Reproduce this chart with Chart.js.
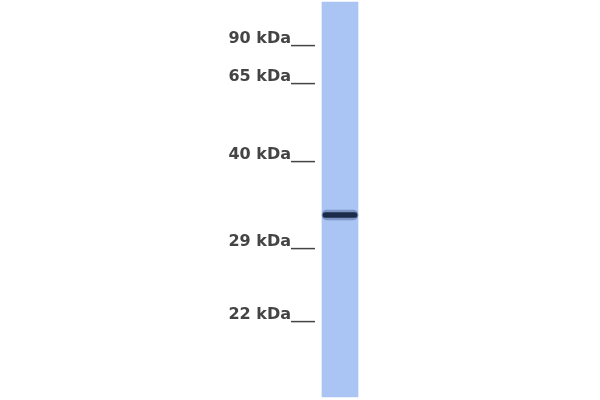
<!DOCTYPE html>
<html>
<head>
<meta charset="utf-8">
<script src="https://cdn.jsdelivr.net/npm/chart.js@4.4.0/dist/chart.umd.min.js"></script>
<style>
  html, body { margin: 0; padding: 0; background: #fff; }
  #wrap { width: 600px; height: 400px; }
</style>
</head>
<body>
<div id="wrap"><canvas id="blot"></canvas></div>
<script>
// Marker ladder (kDa) and their migration distance down the gel
const markerKda = [90, 65, 40, 29, 22];
const markerPos = [39, 77, 155, 242, 315];

// Lane extent and detected band (migration distance)
const laneLabels = ['Lane 1'];
const laneSpan = [[2, 397]];
const bandSpan = [[212.5, 217.5]];
const bandHalo = [[210, 220]];

const ctx = document.getElementById('blot').getContext('2d');

new Chart(ctx, {
    type: 'bar',
    data: {
        labels: laneLabels,
        datasets: [
            { label: 'Band', data: bandSpan, backgroundColor: 'rgba(18,34,62,0.92)', grouped: false, order: 0, barThickness: 34, borderRadius: 3, borderSkipped: false },
            { label: 'Halo', data: bandHalo, backgroundColor: 'rgba(40,64,110,0.35)', grouped: false, order: 1, barThickness: 36, borderRadius: 5, borderSkipped: false },
            { label: 'Lane', data: laneSpan, backgroundColor: '#aac4f3', grouped: false, order: 2, barThickness: 36, borderSkipped: false }
        ]
    },
    options: {
        responsive: true,
        maintainAspectRatio: false,
        animation: false,
        layout: { padding: { left: 218, right: 238, top: 0, bottom: 0 } },
        plugins: { legend: { display: false }, tooltip: { enabled: false } },
        scales: {
            x: {
                display: false
            },
            y: {
                type: 'linear',
                reverse: true,
                min: 0,
                max: 400,
                afterFit: s => { s.width = 100; s.paddingTop = 0; s.paddingBottom = 0; },
                afterBuildTicks: s => { s.ticks = markerPos.map(v => ({ value: v })); },
                grid: { display: false, drawTicks: false },
                border: { display: false },
                ticks: {
                    padding: 3,
                    color: '#444444',
                    font: { family: 'DejaVu Sans', size: 16, weight: 'bold' },
                    callback: v => {
                        const i = markerPos.indexOf(v);
                        return i >= 0 ? markerKda[i] + ' kDa___' : '';
                    }
                }
            }
        }
    }
});
</script>
</body>
</html>
